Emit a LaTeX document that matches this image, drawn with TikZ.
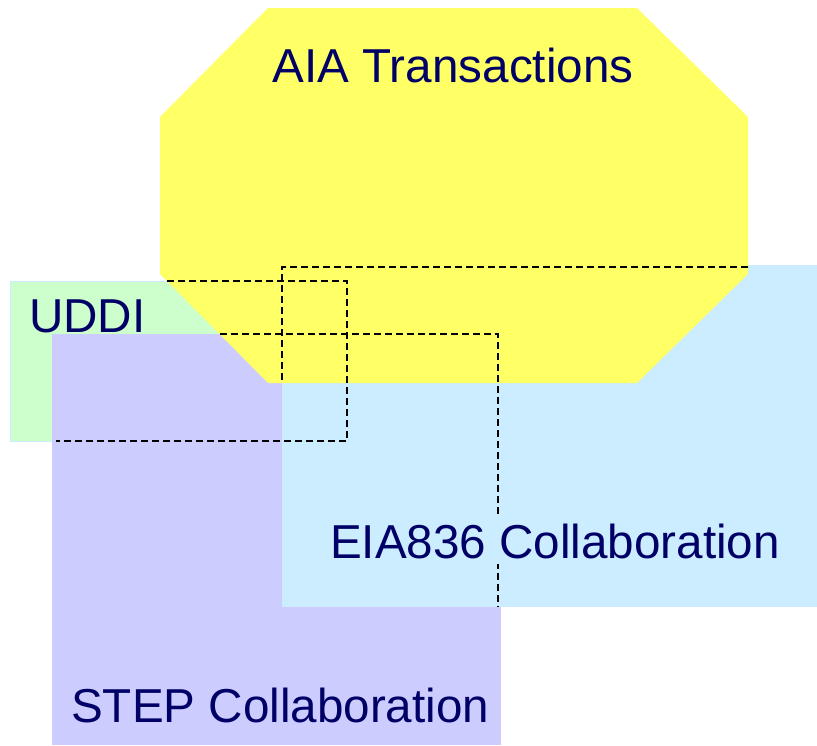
\documentclass[tikz,border=0pt]{standalone}
\usepackage{fontspec}
\setmainfont{Liberation Sans}
\definecolor{aiayellow}{HTML}{FFFF66}
\definecolor{uddigreen}{HTML}{CCFFCC}
\definecolor{steppurple}{HTML}{CCCCFF}
\definecolor{eiablue}{HTML}{CCECFF}
\definecolor{labelnavy}{HTML}{000066}
\tikzset{lbl/.style = {text=labelnavy, inner sep=0, anchor=base west, font=\fontsize{47.6}{56}\selectfont},
         hidden/.style = {line width=2pt, dash pattern=on 7pt off 4pt}}

\begin{document}
\begin{tikzpicture}[x=1pt, y=-1pt]
    \useasboundingbox (0, 0) rectangle (817, 745);

    % corners of the areas
    \coordinate (uddiNW) at (10, 281);
    \coordinate (uddiSE) at (347, 441);
    \coordinate (stepNW) at (52, 334);
    \coordinate (stepSE) at (501, 745);
    \coordinate (eiaNW) at (282, 265);
    \coordinate (eiaSE) at (817, 607);

    \fill [uddigreen, draw=eiablue, line width=1pt] (uddiNW) rectangle (uddiSE);
    \fill [steppurple] (stepNW) rectangle (stepSE);
    \fill [eiablue] (eiaNW) rectangle (eiaSE);
    \fill [aiayellow] (268, 8) -- (637, 8) -- (748, 117) -- (748, 274)
        -- (637, 383) -- (268, 383) -- (160, 274) -- (160, 117) -- cycle;

    % hidden edges
    \draw [hidden] (167, 281) -| (uddiSE) -- (56, 441);
    \draw [hidden] (220, 334) -- (498, 334) -- (498, 607);
    \draw [hidden] (748, 267) -- (282, 267) -- (282, 383);

    \node [lbl, anchor=base] (aia) at (453, 82) {AIA Transactions};
    \node [lbl] (uddi) at (29, 332) {UDDI};
    \node [lbl, fill=eiablue, inner ysep=6] (eia) at (330, 558) {EIA836 Collaboration};
    \node [lbl] (step) at (71, 722) {STEP Collaboration};
\end{tikzpicture}
\end{document}
